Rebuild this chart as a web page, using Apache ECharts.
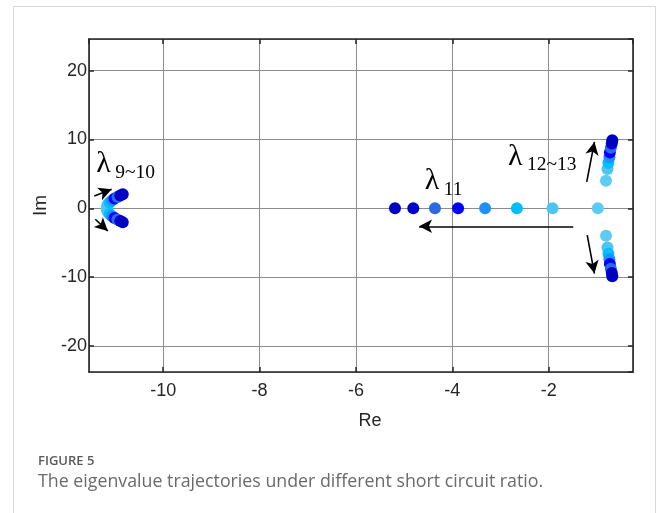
<!DOCTYPE html>
<html>
<head>
<meta charset="utf-8">
<script src="https://cdn.jsdelivr.net/npm/echarts@6/dist/echarts.min.js"></script>
<style>
  html, body { margin: 0; padding: 0; background: #ffffff; }
  #chart { width: 656px; height: 513px; }
</style>
</head>
<body>
<div id="chart"></div>
<script>
// Colour for each short circuit ratio level (light -> dark)
const levelColors = ['#5ECBF5', '#4CC5F3', '#00BFFF', '#1E90FF', '#0000FF', '#2A6BE3', '#0000CD', '#0000C2'];

// Eigenvalue trajectories, one entry per short circuit ratio level
const lam9Re  = [-11.17, -11.15, -11.11, -11.06, -11.01, -10.95, -10.89, -10.84];
const lam9Im  = [0.25, 0.55, 0.85, 1.15, 1.40, 1.65, 1.85, 2.05];
const lam10Re = [-11.17, -11.15, -11.11, -11.06, -11.01, -10.95, -10.89, -10.84];
const lam10Im = [-0.25, -0.55, -0.85, -1.15, -1.40, -1.65, -1.85, -2.05];
const lam11Re = [-0.98, -1.92, -2.66, -3.32, -3.88, -4.36, -4.81, -5.19];
const lam11Im = [0, 0, 0, 0, 0, 0, 0, 0];
const lam12Re = [-0.81, -0.78, -0.76, -0.74, -0.73, -0.71, -0.69, -0.68];
const lam12Im = [4.0, 5.7, 6.6, 7.4, 8.1, 8.8, 9.4, 9.9];
const lam13Re = [-0.81, -0.78, -0.76, -0.74, -0.73, -0.71, -0.69, -0.68];
const lam13Im = [-4.0, -5.7, -6.6, -7.4, -8.1, -8.8, -9.4, -9.9];

// Axis extents
const xRange = [-11.54, -0.25];
const yRange = [-23.8, 24.6];

// Trajectory direction arrows (data coordinates: tail, head)
const arrows = [
  [[-11.43, 1.79], [-11.07, 2.76]],
  [[-11.41, -1.60], [-11.15, -3.30]],
  [[-1.49, -2.62], [-4.69, -2.62]],
  [[-1.21, 3.82], [-1.05, 9.64]],
  [[-1.20, -3.92], [-1.05, -9.49]]
];

// Eigenvalue labels: main symbol, subscript, anchor in data coordinates
const labels = [
  { main: 'λ', sub: '9~10', at: [-11.39, 6.4] },
  { main: 'λ', sub: '11', at: [-4.57, 3.92] },
  { main: 'λ', sub: '12~13', at: [-2.845, 7.49] }
];

const axisColor = '#262626';
const gridColor = '#8c8c8c';
const sans = 'Liberation Sans';
const serif = 'Liberation Serif';

const series = levelColors.map((c, i) => ({
  type: 'scatter',
  name: 'level' + (i + 1),
  symbol: 'circle',
  symbolSize: 12,
  itemStyle: { color: c, opacity: 1 },
  z: 3 + i,
  data: [
    [lam9Re[i], lam9Im[i]],
    [lam10Re[i], lam10Im[i]],
    [lam11Re[i], lam11Im[i]],
    [lam12Re[i], lam12Im[i]],
    [lam13Re[i], lam13Im[i]]
  ]
}));

series.push({
  type: 'scatter',
  name: 'arrows',
  data: [],
  silent: true,
  z: 20,
  markLine: {
    silent: true,
    symbol: ['none', 'arrow'],
    symbolSize: [10, 13],
    label: { show: false },
    lineStyle: { color: '#000000', width: 1.6, type: 'solid' },
    emphasis: { disabled: true },
    data: arrows.map(a => [{ coord: a[0] }, { coord: a[1] }])
  }
});

function mainAxis(extra) {
  return Object.assign({
    type: 'value',
    splitNumber: 5,
    axisLine: { show: true, onZero: false, lineStyle: { color: axisColor, width: 1.6 } },
    axisTick: { show: true, inside: true, length: 5, lineStyle: { color: axisColor, width: 1.5 } },
    splitLine: { show: true, lineStyle: { color: gridColor, width: 1 } }
  }, extra);
}
function mirrorAxis(extra) {
  return Object.assign({
    type: 'value',
    splitNumber: 5,
    axisLine: { show: true, onZero: false, lineStyle: { color: axisColor, width: 1.6 } },
    axisTick: { show: true, inside: true, length: 5, lineStyle: { color: axisColor, width: 1.5 } },
    axisLabel: { show: false },
    splitLine: { show: false }
  }, extra);
}

const chart = echarts.init(document.getElementById('chart'), null, { renderer: 'canvas' });

chart.setOption({
  animation: false,
  backgroundColor: '#ffffff',
  textStyle: { fontFamily: sans },
  grid: { left: 89, right: 23, top: 39, bottom: 141 },
  xAxis: [
    mainAxis({
      position: 'bottom', min: xRange[0], max: xRange[1],
      name: 'Re', nameLocation: 'middle', nameGap: 40,
      nameTextStyle: { color: axisColor, fontSize: 18, fontFamily: sans, padding: [0, 0, 0, 18] },
      axisLabel: { show: true, color: axisColor, fontSize: 18, fontFamily: sans, margin: 10, showMinLabel: false, showMaxLabel: false }
    }),
    mirrorAxis({ position: 'top', min: xRange[0], max: xRange[1] })
  ],
  yAxis: [
    mainAxis({
      position: 'left', min: yRange[0], max: yRange[1],
      name: 'Im', nameLocation: 'middle', nameGap: 35.5,
      nameTextStyle: { color: axisColor, fontSize: 19, fontFamily: sans },
      axisLabel: { show: true, color: axisColor, fontSize: 18, fontFamily: sans, margin: 2, showMinLabel: false, showMaxLabel: false }
    }),
    mirrorAxis({ position: 'right', min: yRange[0], max: yRange[1] })
  ],
  series: series
});

// Card frame, caption and eigenvalue labels
function textStyle(text, size, family, color, weight) {
  return {
    text: text, fill: color, fontSize: size, fontFamily: family, fontWeight: weight || 'normal',
    align: 'left', verticalAlign: 'middle', textAlign: 'left', textVerticalAlign: 'middle'
  };
}

const graphics = [
  {
    type: 'rect', silent: true, z: 0,
    shape: { x: 13.5, y: 6.5, width: 642, height: 520 },
    style: { fill: 'none', stroke: '#d9d9d9', lineWidth: 1 }
  },
  { type: 'text', silent: true, x: 38, y: 461, style: textStyle('FIGURE 5', 13, 'Open Sans', '#5a5a5a', 600) },
  { type: 'text', silent: true, x: 38, y: 482,
    style: textStyle('The eigenvalue trajectories under different short circuit ratio.', 17.8, 'Open Sans', '#6a6a6a') }
];

labels.forEach(l => {
  const p = chart.convertToPixel({ gridIndex: 0 }, l.at);
  graphics.push({ type: 'text', silent: true, x: p[0], y: p[1], z: 30, style: textStyle(l.main, 30, serif, '#000000') });
  graphics.push({ type: 'text', silent: true, x: p[0] + 19, y: p[1] + 8.5, z: 30, style: textStyle(l.sub, 19.5, serif, '#000000') });
});

chart.setOption({ graphic: graphics });
</script>
</body>
</html>
